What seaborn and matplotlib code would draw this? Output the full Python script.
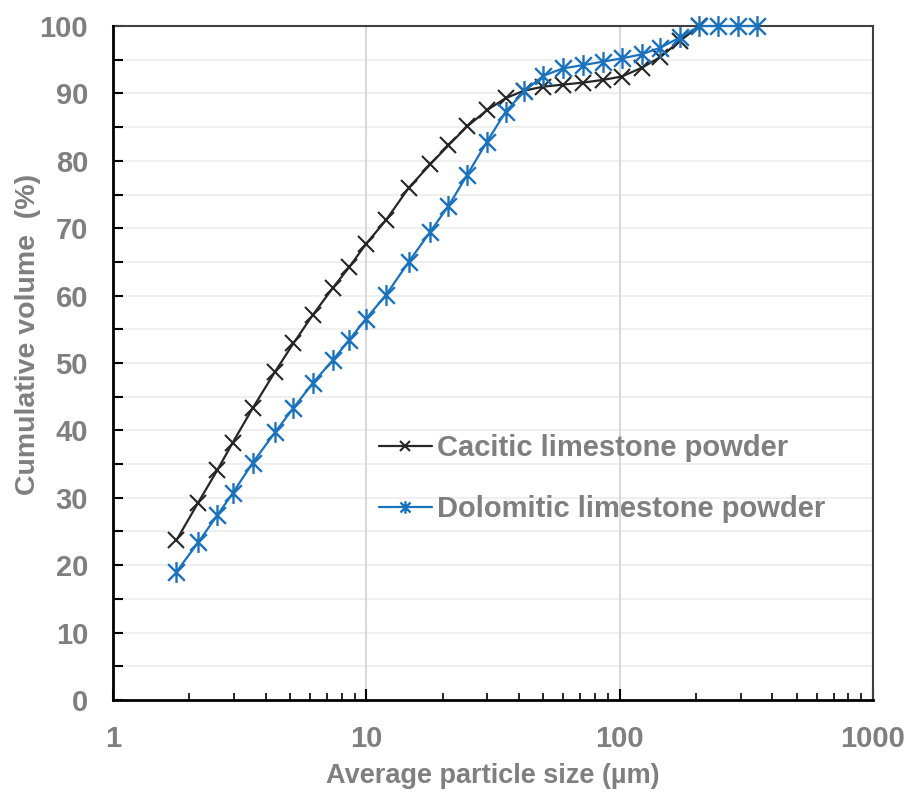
import numpy as np
import pandas as pd
import seaborn as sns
import matplotlib
matplotlib.use("Agg")
import matplotlib.pyplot as plt
from matplotlib.path import Path
from matplotlib.ticker import FixedLocator, NullFormatter

# particle size classes (um)
sizes = [1.78, 2.17, 2.58, 2.97, 3.56, 4.36, 5.15, 6.14, 7.36, 8.55, 9.94,
         11.96, 14.7, 17.9, 21.1, 25.0, 29.9, 35.5, 41.9, 49.9, 59.6, 71.5,
         85.7, 101.9, 122.2, 144.9, 173.1, 206.3, 245.2, 292.4, 347.5]

calcitic = [23.7, 29.3, 34.1, 38.2, 43.3, 48.7, 52.9, 57.1, 61.1, 64.2, 67.6,
            71.2, 76.0, 79.5, 82.3, 85.1, 87.5, 89.3, 90.4, 91.0, 91.3, 91.6,
            92.0, 92.5, 93.8, 95.4, 97.8, 100.0]
dolomitic = [19.0, 23.4, 27.4, 30.7, 35.2, 39.7, 43.3, 47.0, 50.4, 53.4, 56.5,
             60.1, 65.0, 69.5, 73.3, 77.9, 82.8, 87.3, 90.3, 92.6, 93.7, 94.2,
             94.7, 95.2, 95.8, 96.8, 98.3, 100.0, 100.0, 100.0, 100.0]

labels = ["Cacitic limestone powder", "Dolomitic limestone powder"]

sns.set_theme(style="white")
plt.rcParams["font.family"] = ["Liberation Sans", "DejaVu Sans"]
plt.rcParams["font.weight"] = "bold"

grey = "#7f7f7f"
black = "#262626"
blue = "#1a72bd"

# excel style star: an x with a vertical bar
star = Path([(-1, -1), (1, 1), (-1, 1), (1, -1), (0, -1.25), (0, 1.25)],
            [Path.MOVETO, Path.LINETO, Path.MOVETO, Path.LINETO,
             Path.MOVETO, Path.LINETO])

fig = plt.figure(figsize=(9.07, 7.93), dpi=100)
ax = fig.add_axes([0.1246, 0.1173, 0.8379, 0.8499])

ax.set_xscale("log")
ax.set_xlim(1, 1000)
ax.set_ylim(0, 100)

# light grid first
for yv in np.arange(5, 100, 5):
    ax.axhline(yv, color="#efefef", lw=1.5, zorder=0)
for xv in [10, 100]:
    ax.axvline(xv, color="#d9d9d9", lw=1.5, zorder=0)

sns.lineplot(x=sizes[:len(calcitic)], y=calcitic, ax=ax, color=black,
             marker="x", markersize=11.5, markeredgewidth=1.5,
             markeredgecolor=black, lw=1.6, label=labels[0], clip_on=False,
             zorder=3)
sns.lineplot(x=sizes, y=dolomitic, ax=ax, color=blue, marker=star,
             markersize=15, markeredgewidth=1.7, markeredgecolor=blue,
             markerfacecolor="none", lw=1.6, label=labels[1], clip_on=False,
             zorder=4)

ax.yaxis.set_major_locator(FixedLocator(np.arange(0, 101, 10)))
ax.yaxis.set_minor_locator(FixedLocator(np.arange(5, 100, 10)))
ax.xaxis.set_major_locator(FixedLocator([1, 10, 100, 1000]))
minors = [m * d for d in [1, 10, 100] for m in range(2, 10)]
ax.xaxis.set_minor_locator(FixedLocator(minors))
ax.xaxis.set_minor_formatter(NullFormatter())
ax.set_xticklabels(["1", "10", "100", "1000"])

ax.tick_params(axis="y", which="both", direction="in", length=7, width=1.5,
               color="black", left=True, labelsize=21, labelcolor=grey, pad=18)
ax.tick_params(axis="x", which="major", direction="in", length=8, width=1.5,
               color="black", bottom=True, labelsize=21, labelcolor=grey, pad=18)
ax.tick_params(axis="x", which="minor", direction="in", length=5, width=1.2,
               color="black", bottom=True)
for lab in ax.get_xticklabels() + ax.get_yticklabels():
    lab.set_fontweight("bold")

for side in ["left", "bottom"]:
    ax.spines[side].set_color("black")
    ax.spines[side].set_linewidth(2)
for side in ["top", "right"]:
    ax.spines[side].set_color("#404040")
    ax.spines[side].set_linewidth(1.5)
ax.spines["top"].set_zorder(2)

ax.set_xlabel("Average particle size (\u00b5m)", fontsize=19.5,
              fontweight="bold", color=grey)
ax.set_ylabel("Cumulative volume  (%)", fontsize=20.5, fontweight="bold",
              color=grey)
ax.xaxis.set_label_coords(0.5, -0.093)
ax.yaxis.set_label_coords(-0.095, 0.543)

leg = ax.legend(loc="upper left", bbox_to_anchor=(0.35, 0.395), frameon=False,
                fontsize=21, handlelength=1.8, handletextpad=0.2,
                labelspacing=1.15, markerscale=0.6, borderpad=0,
                borderaxespad=0)
for t in leg.get_texts():
    t.set_color(grey)
    t.set_fontweight("bold")

fig.savefig("out.png", dpi=100)
